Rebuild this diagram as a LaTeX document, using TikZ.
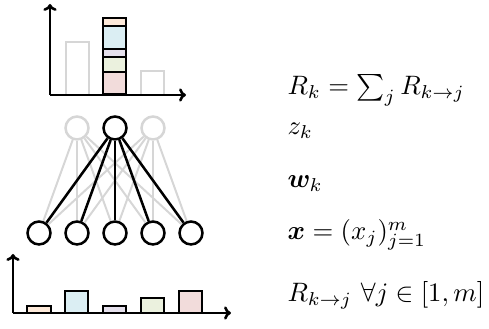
\documentclass[tikz,border=0pt]{standalone}
\usepackage{amsmath,bm}
\usetikzlibrary{arrows.meta}
\begin{document}
\begin{tikzpicture}[x=0.375pt,y=-0.375pt,
  blk/.style={draw=black,line width=0.95pt},
  gry/.style={draw=black!16,line width=0.75pt},
  neur/.style={circle,minimum size=8.6pt,inner sep=0pt,line width=0.95pt},
  axis/.style={line width=0.95pt,-{To[length=2.6pt,width=5pt]}},
  lbl/.style={anchor=base west,inner sep=0pt}]
\definecolor{cOr}{RGB}{253,233,217}
\definecolor{cBl}{RGB}{219,238,243}
\definecolor{cPu}{RGB}{229,224,236}
\definecolor{cGr}{RGB}{235,241,222}
\definecolor{cRe}{RGB}{242,220,219}
\useasboundingbox (0,0) rectangle (489,329);
% top chart
\coordinate (o1) at (50,95);
\coordinate (y1) at (50,4);
\coordinate (x1) at (186,95);
\draw[gry] (66,95) rectangle (89,42);
\draw[gry] (141,95) rectangle (164,71);
\draw[blk,fill=cRe] (103,94) rectangle (126,72);
\draw[blk,fill=cGr] (103,72) rectangle (126,57);
\draw[blk,fill=cPu] (103,57) rectangle (126,49);
\draw[blk,fill=cBl] (103,49) rectangle (126,26);
\draw[blk,fill=cOr] (103,26) rectangle (126,18);
\draw[axis] (o1) -- (y1);
\draw[axis] (o1) -- (x1);
% network
\node[neur,draw=black!16] (g1) at (77,128) {};
\node[neur,draw=black!16] (g2) at (153,128) {};
\foreach \i/\xx in {1/39,2/77,3/115,4/153,5/191}{
  \node[neur,draw=black] (b\i) at (\xx,233) {};
}
\foreach \i in {1,...,5}{
  \draw[gry] (g1) -- (b\i);
  \draw[gry] (g2) -- (b\i);
}
\node[neur,draw=black] (top) at (115,128) {};
\foreach \i in {1,...,5}{
  \draw[blk] (top) -- (b\i);
}
% bottom chart
\coordinate (o2) at (13,313);
\coordinate (y2) at (13,254);
\coordinate (x2) at (231,313);
\draw[blk,fill=cOr] (27,313) rectangle (51,306);
\draw[blk,fill=cBl] (65,313) rectangle (88,291);
\draw[blk,fill=cPu] (103,313) rectangle (126,306);
\draw[blk,fill=cGr] (141,313) rectangle (164,298);
\draw[blk,fill=cRe] (179,313) rectangle (202,291);
\draw[axis] (o2) -- (y2);
\draw[axis] (o2) -- (x2);
% labels
\node[lbl] (t1) at (287,95) {$R_k = \sum_j R_{k\rightarrow j}$};
\node[lbl] (t2) at (287,135) {$z_k$};
\node[lbl] (t3) at (287,188) {$\bm{w}_k$};
\node[lbl] (t4) at (287,240) {$\bm{x} = (x_j)_{j=1}^m$};
\node[lbl] (t5) at (287,302) {$R_{k\rightarrow j}\ \forall j \in [1,m]$};
\end{tikzpicture}
\end{document}
